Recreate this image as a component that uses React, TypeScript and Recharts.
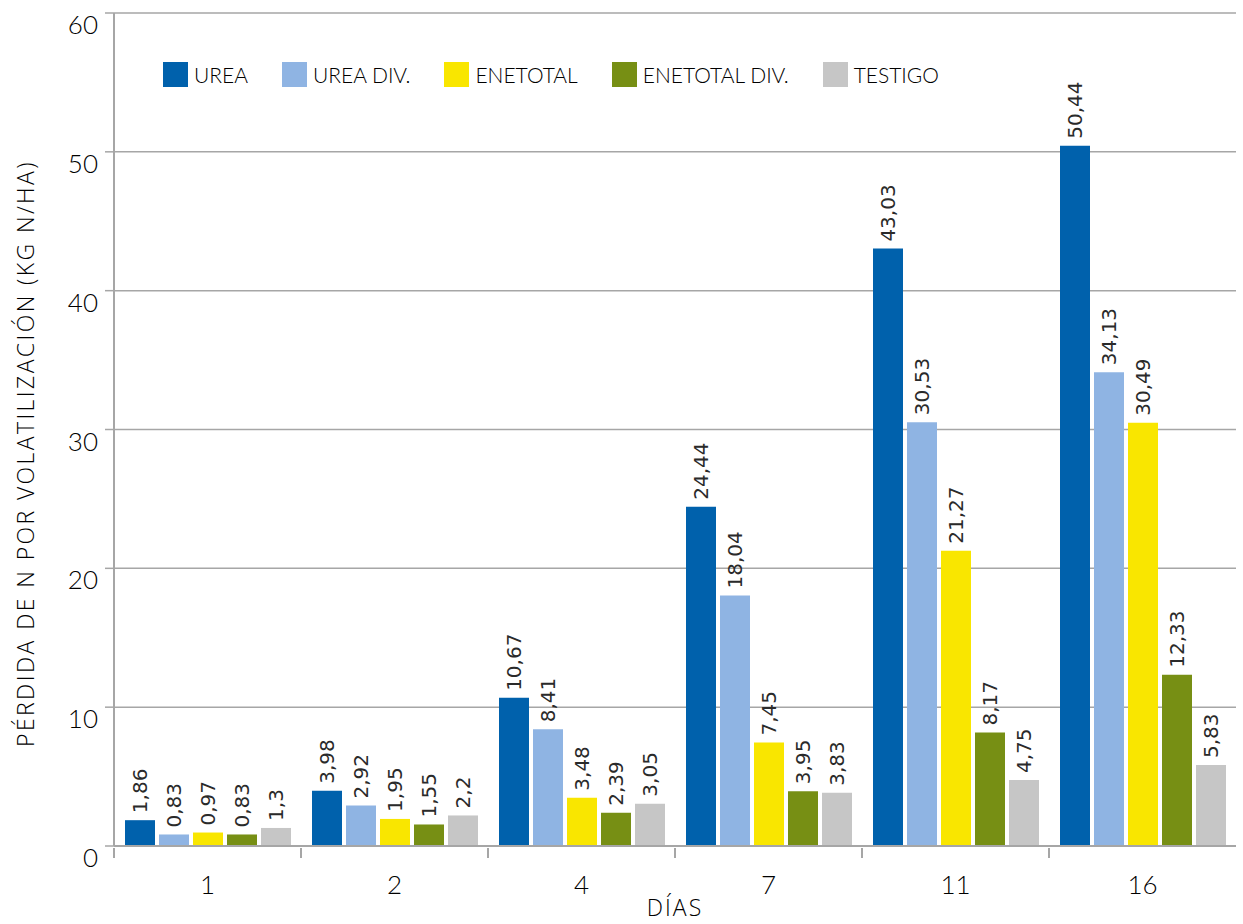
import React from 'react';
import { BarChart, Bar, XAxis, YAxis, CartesianGrid, LabelList, Label } from 'recharts';

const days = ['1', '2', '4', '7', '11', '16'];
const urea = [1.86, 3.98, 10.67, 24.44, 43.03, 50.44];
const ureaDiv = [0.83, 2.92, 8.41, 18.04, 30.53, 34.13];
const enetotal = [0.97, 1.95, 3.48, 7.45, 21.27, 30.49];
const enetotalDiv = [0.83, 1.55, 2.39, 3.95, 8.17, 12.33];
const testigo = [1.3, 2.2, 3.05, 3.83, 4.75, 5.83];
const yTicks = [0, 10, 20, 30, 40, 50, 60];

const seriesList = [
  { key: 'urea', name: 'UREA', color: '#0061ac' },
  { key: 'ureaDiv', name: 'UREA DIV.', color: '#8fb4e3' },
  { key: 'enetotal', name: 'ENETOTAL', color: '#f9e600' },
  { key: 'enetotalDiv', name: 'ENETOTAL DIV.', color: '#778f14' },
  { key: 'testigo', name: 'TESTIGO', color: '#c6c6c6' },
];

const data = days.map((d, i) => ({
  day: d,
  urea: urea[i],
  ureaDiv: ureaDiv[i],
  enetotal: enetotal[i],
  enetotalDiv: enetotalDiv[i],
  testigo: testigo[i],
}));

const FONT = 'Lato, sans-serif';
const TITLE_FONT = '"Open Sans", sans-serif';
const LABEL_FONT = '"DejaVu Sans", sans-serif';
const TEXT = '#000';
const GRID = '#a6a6a6';

const fmt = (v: number) => String(v).replace('.', ',');

const BarValue = (props: any) => {
  const { x, y, width, value } = props;
  const cx = x + width / 2;
  const ty = y - 7;
  return (
    <text
      x={cx}
      y={ty}
      transform={`rotate(-90, ${cx}, ${ty})`}
      textAnchor="start"
      dominantBaseline="central"
      fontSize={20}
      fontFamily={LABEL_FONT}
      fill="#2a2a2a"
    >
      {fmt(value)}
    </text>
  );
};

const XTick = (props: any) => {
  const { x, y, payload } = props;
  const band = (1243 - 114 - 7) / days.length;
  const left = x - band / 2;
  return (
    <g>
      <line x1={left} x2={left} y1={y} y2={y + 10} stroke={GRID} strokeWidth={2} />
      <text x={x} y={y + 46} textAnchor="middle" fontSize={26} fontFamily={FONT} fontWeight={300} fill={TEXT}>
        {payload.value}
      </text>
    </g>
  );
};

const YTick = (props: any) => {
  const { x, y, payload } = props;
  return (
    <text
      x={x}
      y={y + 11}
      textAnchor="end"
      dominantBaseline="central"
      fontSize={26}
      fontFamily={FONT}
      fontWeight={300}
      fill={TEXT}
    >
      {payload.value}
    </text>
  );
};

const LegendBox = () => (
  <div
    style={{
      position: 'absolute',
      top: 62,
      left: 163,
      display: 'flex',
      alignItems: 'center',
      fontFamily: FONT,
      fontWeight: 300,
      fontSize: 21,
      color: TEXT,
      whiteSpace: 'nowrap',
    }}
  >
    {seriesList.map((s) => (
      <div key={s.key} style={{ display: 'flex', alignItems: 'center', marginRight: 34 }}>
        <div style={{ width: 25, height: 25, background: s.color, marginRight: 6 }} />
        <span>{s.name}</span>
      </div>
    ))}
  </div>
);

const App: React.FC = () => {
  return (
    <div style={{ position: 'fixed', top: 0, left: 0, width: 1243, height: 924, background: '#fff' }}>
      <BarChart
        width={1243}
        height={924}
        data={data}
        margin={{ top: 13, right: 7, bottom: 0, left: 0 }}
        barSize={30}
        barGap={4}
      >
        <CartesianGrid vertical={false} stroke={GRID} strokeWidth={1.5} />
        <XAxis
          dataKey="day"
          height={78}
          axisLine={{ stroke: GRID, strokeWidth: 2 }}
          tickLine={false}
          tickSize={0}
          tick={<XTick />}
          interval={0}
        >
          <Label
            value="DÍAS"
            position="insideBottom"
            offset={8}
            style={{ fontSize: 23, fontFamily: TITLE_FONT, fontWeight: 300, letterSpacing: 2, fill: TEXT }}
          />
        </XAxis>
        <YAxis
          width={114}
          domain={[0, 60]}
          ticks={yTicks}
          axisLine={{ stroke: GRID, strokeWidth: 2 }}
          tickLine={{ stroke: GRID, strokeWidth: 1.5 }}
          tickSize={9}
          tickMargin={7}
          tick={<YTick />}
        >
          <Label
            content={(p: any) => {
              const vb = p.viewBox;
              const cy = vb.y + vb.height / 2 + 24;
              return (
                <text
                  x={25}
                  y={cy}
                  transform={`rotate(-90, 25, ${cy})`}
                  textAnchor="middle"
                  dominantBaseline="central"
                  fontSize={23}
                  fontFamily={TITLE_FONT}
                  fontWeight={300}
                  letterSpacing={2.4}
                  fill={TEXT}
                >
                  PÉRDIDA DE N POR VOLATILIZACIÓN (KG N/HA)
                </text>
              );
            }}
          />
        </YAxis>
        {seriesList.map((s) => (
          <Bar key={s.key} dataKey={s.key} name={s.name} fill={s.color} isAnimationActive={false}>
            <LabelList dataKey={s.key} content={<BarValue />} />
          </Bar>
        ))}
      </BarChart>
      <LegendBox />
    </div>
  );
};

export default App;
